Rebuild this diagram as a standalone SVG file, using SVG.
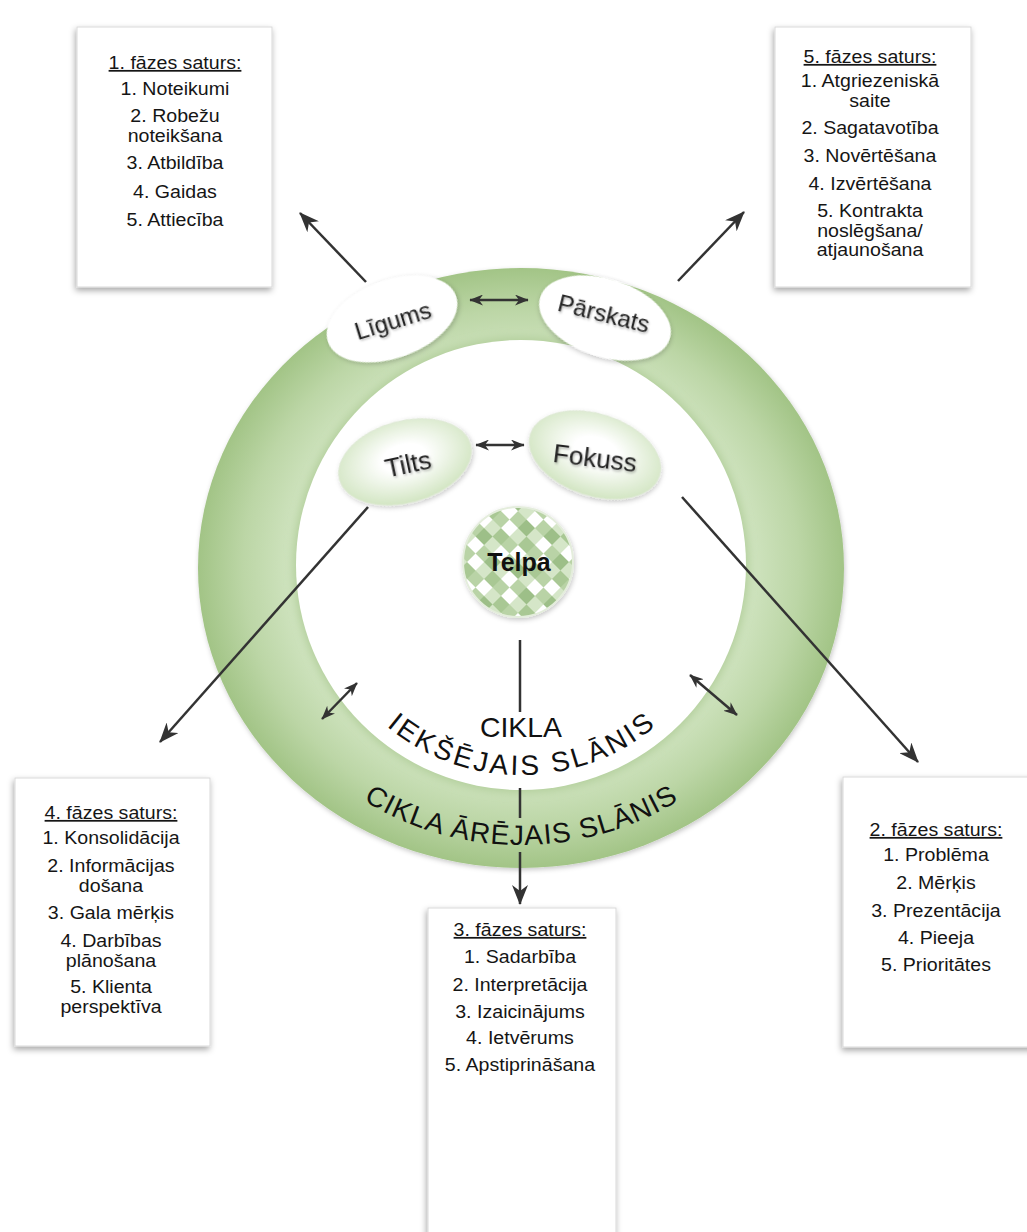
<svg xmlns="http://www.w3.org/2000/svg" width="1027" height="1232" viewBox="0 0 1027 1232">
  <style>
    .box { fill: #ffffff; stroke: #d9d9d9; stroke-width: 1; filter: url(#boxShadow); }
    .bt { font-family: "Liberation Sans", Arial, sans-serif; font-size: 17.5px; fill: #151515; text-anchor: middle; }
    .ttl { text-decoration: underline; }
    .lbl { font-family: "Liberation Sans", Arial, sans-serif; fill: #222; text-anchor: middle; filter: url(#textShadow); }
    .arc { font-family: "Liberation Sans", Arial, sans-serif; font-size: 28px; fill: #111; }
    .wire { stroke: #333; stroke-width: 2.5; fill: none; }
  </style>
  <defs>
    <radialGradient id="ringFill" cx="521" cy="568" r="323" gradientUnits="userSpaceOnUse" gradientTransform="translate(521 568) scale(1 0.93) translate(-521 -568)">
      <stop offset="0.68" stop-color="#d3e6c4"/>
      <stop offset="0.86" stop-color="#bcd6a6"/>
      <stop offset="1" stop-color="#a2c486"/>
    </radialGradient>
    <radialGradient id="paleGreen" cx="50%" cy="45%" r="55%">
      <stop offset="0.3" stop-color="#ffffff"/>
      <stop offset="1" stop-color="#d2e5c2"/>
    </radialGradient>
    <pattern id="checker" width="48" height="48" patternUnits="userSpaceOnUse" patternTransform="translate(518 562) rotate(45)">
      <rect x="0" y="0" width="12" height="12" fill="#9dbf88"/>
      <rect x="12" y="0" width="12" height="12" fill="#d5e6c8"/>
      <rect x="24" y="0" width="12" height="12" fill="#ffffff"/>
      <rect x="36" y="0" width="12" height="12" fill="#b9d3a6"/>
      <rect x="0" y="12" width="12" height="12" fill="#ffffff"/>
      <rect x="12" y="12" width="12" height="12" fill="#b9d3a6"/>
      <rect x="24" y="12" width="12" height="12" fill="#9dbf88"/>
      <rect x="36" y="12" width="12" height="12" fill="#d5e6c8"/>
      <rect x="0" y="24" width="12" height="12" fill="#b9d3a6"/>
      <rect x="12" y="24" width="12" height="12" fill="#ffffff"/>
      <rect x="24" y="24" width="12" height="12" fill="#d5e6c8"/>
      <rect x="36" y="24" width="12" height="12" fill="#a9c894"/>
      <rect x="0" y="36" width="12" height="12" fill="#d5e6c8"/>
      <rect x="12" y="36" width="12" height="12" fill="#a9c894"/>
      <rect x="24" y="36" width="12" height="12" fill="#b9d3a6"/>
      <rect x="36" y="36" width="12" height="12" fill="#ffffff"/>
    </pattern>
    <filter id="boxShadow" x="-20%" y="-20%" width="140%" height="140%">
      <feDropShadow dx="-1" dy="3" stdDeviation="3" flood-color="#000" flood-opacity="0.35"/>
    </filter>
    <filter id="softShadow" x="-20%" y="-20%" width="140%" height="140%">
      <feDropShadow dx="1" dy="2" stdDeviation="2.5" flood-color="#000" flood-opacity="0.22"/>
    </filter>
    <filter id="textShadow" x="-10%" y="-20%" width="120%" height="150%">
      <feDropShadow dx="1" dy="1.5" stdDeviation="1" flood-color="#000" flood-opacity="0.3"/>
    </filter>
    <filter id="blur4" x="-10%" y="-10%" width="120%" height="120%">
      <feGaussianBlur stdDeviation="4"/>
    </filter>
    <marker id="head" viewBox="0 0 20 16" refX="19" refY="8" markerWidth="20" markerHeight="16" markerUnits="userSpaceOnUse" orient="auto-start-reverse">
      <path d="M0,0 L20,8 L0,16 L6,8 Z" fill="#333"/>
    </marker>
    <marker id="headSm" viewBox="0 0 20 16" refX="19" refY="8" markerWidth="14" markerHeight="11" markerUnits="userSpaceOnUse" orient="auto-start-reverse">
      <path d="M0,0 L20,8 L0,16 L6,8 Z" fill="#333"/>
    </marker>
    <!-- baselines for the curved layer captions, running left to right under the centre -->
    <path id="innerArc" d="M 311,565 A 210,210 0 0 0 731,565"/>
    <path id="outerArc" d="M 231,568 A 290,277 0 0 0 811,568"/>
  </defs>

  <rect width="1027" height="1232" fill="#ffffff"/>

  <!-- outer layer ring with the inner white layer -->
  <g id="layers">
    <ellipse cx="521" cy="568" rx="323" ry="300" fill="url(#ringFill)" filter="url(#softShadow)"/>
    <circle cx="521" cy="565" r="228" fill="#b3cf9c" filter="url(#blur4)"/>
    <circle cx="521" cy="565" r="225" fill="#ffffff"/>
    <!-- inner caption: straight first word, then the rest bent along the arc -->
    <text class="arc" x="521" y="737" text-anchor="middle" font-size="25" textLength="82" lengthAdjust="spacingAndGlyphs">CIKLA</text>
    <text class="arc"><textPath href="#innerArc" startOffset="50%" text-anchor="middle" textLength="292" lengthAdjust="spacing">IEKŠĒJAIS SLĀNIS</textPath></text>
    <text class="arc"><textPath href="#outerArc" startOffset="50%" text-anchor="middle" textLength="332" lengthAdjust="spacing">CIKLA ĀRĒJAIS SLĀNIS</textPath></text>
  </g>

  <!-- connectors -->
  <g id="connectors" class="wire">
    <line x1="366" y1="282" x2="300" y2="213" marker-end="url(#head)"/>
    <line x1="678" y1="281" x2="744" y2="212" marker-end="url(#head)"/>
    <line x1="368" y1="507" x2="160" y2="742" marker-end="url(#head)"/>
    <line x1="682" y1="497" x2="918" y2="762" marker-end="url(#head)"/>
    <line x1="470" y1="300" x2="528" y2="300" marker-start="url(#headSm)" marker-end="url(#headSm)"/>
    <line x1="476" y1="445" x2="524" y2="445" marker-start="url(#headSm)" marker-end="url(#headSm)"/>
    <line x1="322" y1="719" x2="357" y2="683" marker-start="url(#headSm)" marker-end="url(#headSm)"/>
    <line x1="690" y1="675" x2="737" y2="715" marker-start="url(#headSm)" marker-end="url(#headSm)"/>
    <line x1="520" y1="640" x2="520" y2="712"/>
    <line x1="520" y1="788" x2="520" y2="818"/>
    <line x1="520" y1="852" x2="520" y2="904" marker-end="url(#head)"/>
  </g>

  <!-- outer layer stages -->
  <g id="ligums">
    <ellipse cx="392" cy="319" rx="68" ry="39" transform="rotate(-20 392 319)" fill="#ffffff" filter="url(#softShadow)"/>
    <text class="lbl" x="393" y="329" font-size="24" transform="rotate(-17 393 321)">Līgums</text>
  </g>
  <g id="parskats">
    <ellipse cx="605" cy="318" rx="68" ry="39" transform="rotate(18 605 318)" fill="#ffffff" filter="url(#softShadow)"/>
    <text class="lbl" x="604" y="322" font-size="24" transform="rotate(14 604 313)">Pārskats</text>
  </g>

  <!-- inner layer stages -->
  <g id="tilts">
    <ellipse cx="405" cy="462" rx="68" ry="41" transform="rotate(-15 405 462)" fill="url(#paleGreen)" stroke="#dfe9d6" stroke-width="1" filter="url(#softShadow)"/>
    <text class="lbl" x="408" y="473" font-size="26" transform="rotate(-12 408 464)">Tilts</text>
  </g>
  <g id="fokuss">
    <ellipse cx="595" cy="455" rx="68" ry="41" transform="rotate(18 595 455)" fill="url(#paleGreen)" stroke="#dfe9d6" stroke-width="1" filter="url(#softShadow)"/>
    <text class="lbl" x="595" y="467" font-size="26" transform="rotate(7 595 458)">Fokuss</text>
  </g>

  <!-- centre -->
  <g id="telpa">
    <circle cx="518" cy="562" r="55" fill="url(#checker)" stroke="#e4eddc" stroke-width="2" filter="url(#softShadow)"/>
    <text x="519" y="571" text-anchor="middle" font-family="Liberation Sans, Arial, sans-serif" font-size="25" font-weight="bold" fill="#111">Telpa</text>
  </g>

  <!-- stage content boxes; the lettering is widened a little around each box's centre line -->
  <g id="box1">
    <rect class="box" x="77" y="27" width="195" height="260"/>
    <g transform="translate(175 0) scale(1.12 1) translate(-175 0)">
      <text class="bt ttl" x="175" y="69">1. fāzes saturs:</text>
      <text class="bt" x="175" y="95">1. Noteikumi</text>
      <text class="bt" x="175" y="122">2. Robežu<tspan x="175" dy="19.6">noteikšana</tspan></text>
      <text class="bt" x="175" y="169">3. Atbildība</text>
      <text class="bt" x="175" y="198">4. Gaidas</text>
      <text class="bt" x="175" y="226">5. Attiecība</text>
    </g>
  </g>
  <g id="box5">
    <rect class="box" x="775" y="27" width="196" height="260"/>
    <g transform="translate(870 0) scale(1.12 1) translate(-870 0)">
      <text class="bt ttl" x="870" y="63">5. fāzes saturs:</text>
      <text class="bt" x="870" y="87">1. Atgriezeniskā<tspan x="870" dy="19.6">saite</tspan></text>
      <text class="bt" x="870" y="134">2. Sagatavotība</text>
      <text class="bt" x="870" y="162">3. Novērtēšana</text>
      <text class="bt" x="870" y="190">4. Izvērtēšana</text>
      <text class="bt" x="870" y="217">5. Kontrakta<tspan x="870" dy="19.6">noslēgšana/</tspan><tspan x="870" dy="19.6">atjaunošana</tspan></text>
    </g>
  </g>
  <g id="box4">
    <rect class="box" x="15" y="778" width="195" height="268"/>
    <g transform="translate(111 0) scale(1.12 1) translate(-111 0)">
      <text class="bt ttl" x="111" y="819">4. fāzes saturs:</text>
      <text class="bt" x="111" y="844">1. Konsolidācija</text>
      <text class="bt" x="111" y="872">2. Informācijas<tspan x="111" dy="19.6">došana</tspan></text>
      <text class="bt" x="111" y="919">3. Gala mērķis</text>
      <text class="bt" x="111" y="947">4. Darbības<tspan x="111" dy="19.6">plānošana</tspan></text>
      <text class="bt" x="111" y="993">5. Klienta<tspan x="111" dy="19.6">perspektīva</tspan></text>
    </g>
  </g>
  <g id="box2">
    <rect class="box" x="843" y="777" width="200" height="270"/>
    <g transform="translate(936 0) scale(1.12 1) translate(-936 0)">
      <text class="bt ttl" x="936" y="836">2. fāzes saturs:</text>
      <text class="bt" x="936" y="861">1. Problēma</text>
      <text class="bt" x="936" y="889">2. Mērķis</text>
      <text class="bt" x="936" y="917">3. Prezentācija</text>
      <text class="bt" x="936" y="944">4. Pieeja</text>
      <text class="bt" x="936" y="971">5. Prioritātes</text>
    </g>
  </g>
  <g id="box3">
    <rect class="box" x="428" y="908" width="188" height="340"/>
    <g transform="translate(520 0) scale(1.12 1) translate(-520 0)">
      <text class="bt ttl" x="520" y="936">3. fāzes saturs:</text>
      <text class="bt" x="520" y="963">1. Sadarbība</text>
      <text class="bt" x="520" y="991">2. Interpretācija</text>
      <text class="bt" x="520" y="1018">3. Izaicinājums</text>
      <text class="bt" x="520" y="1044">4. Ietvērums</text>
      <text class="bt" x="520" y="1071">5. Apstiprināšana</text>
    </g>
  </g>
</svg>
